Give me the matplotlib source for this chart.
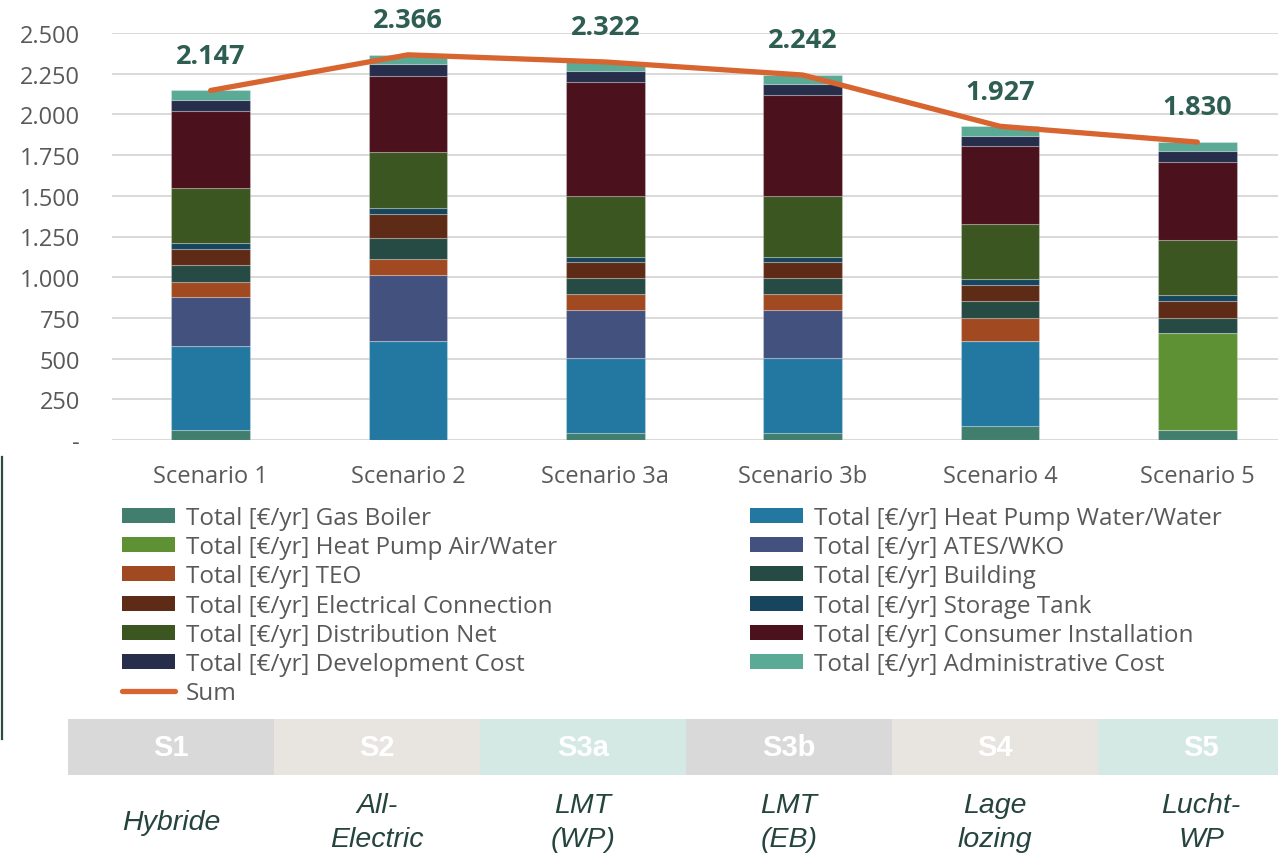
import numpy as np
import matplotlib
matplotlib.use("Agg")
from matplotlib import pyplot as plt
from matplotlib.patches import Rectangle, Patch
from matplotlib.lines import Line2D
from matplotlib.ticker import FuncFormatter

plt.rcParams['font.family'] = ['Open Sans', 'DejaVu Sans']

scenarios = ["Scenario 1", "Scenario 2", "Scenario 3a", "Scenario 3b", "Scenario 4", "Scenario 5"]

# cost components [€/yr]
gas_boiler   = [60, 0, 43, 43, 84, 61]
hp_water     = [519, 610, 459, 459, 526, 0]
hp_air       = [0, 0, 0, 0, 0, 596]
ates_wko     = [297, 405, 295, 295, 0, 0]
teo          = [93, 95, 98, 98, 141, 0]
building     = [104, 133, 98, 98, 105, 94]
elec_conn    = [98, 145, 99, 99, 98, 105]
storage_tank = [37, 39, 30, 30, 33, 37]
distribution = [338, 340, 377, 377, 340, 337]
consumer     = [477, 471, 698, 618, 477, 476]
development  = [67, 70, 68, 68, 65, 67]
admin        = [57, 58, 57, 57, 58, 57]
totals       = [2147, 2366, 2322, 2242, 1927, 1830]

short_names = ["S1", "S2", "S3a", "S3b", "S4", "S5"]
descriptions = ["Hybride", "All-\nElectric", "LMT\n(WP)", "LMT\n(EB)", "Lage\nlozing", "Lucht-\nWP"]

series = [
    ("Gas Boiler", gas_boiler, '#417e6e'),
    ("Heat Pump Water/Water", hp_water, '#2378a1'),
    ("Heat Pump Air/Water", hp_air, '#5e9134'),
    ("ATES/WKO", ates_wko, '#43517f'),
    ("TEO", teo, '#a14a22'),
    ("Building", building, '#264b44'),
    ("Electrical Connection", elec_conn, '#5e2b16'),
    ("Storage Tank", storage_tank, '#17455e'),
    ("Distribution Net", distribution, '#3b5620'),
    ("Consumer Installation", consumer, '#4b111d'),
    ("Development Cost", development, '#262e4b'),
    ("Administrative Cost", admin, '#5aaa96'),
]

W, H = 1278, 854
fig = plt.figure(figsize=(W/100, H/100), dpi=100)
ax = fig.add_axes([112/W, 1-441/H, 1184/W, 407/H])

x = np.arange(len(scenarios))
bottom = np.zeros(len(scenarios))
handles = {}
for name, vals, col in series:
    vals = np.array(vals, dtype=float)
    ax.bar(x, vals, width=0.4, bottom=bottom, color=col, edgecolor=(1, 1, 1, 0.25), linewidth=0.8, zorder=3)
    handles[name] = Patch(facecolor=col, label="Total [€/yr] " + name)
    bottom += vals

line_col = '#d8652f'
ax.plot(x, totals, color=line_col, lw=3.8, solid_capstyle='round', zorder=5)
for xi, t in zip(x, totals):
    ax.annotate(f"{t:,}".replace(",", "."), (xi, t), xytext=(0, 25), textcoords='offset points',
                ha='center', va='center', fontsize=19.5, fontweight='bold', color='#2e5e52',
                annotation_clip=False)

ax.set_xlim(-0.5, 5.5)
ax.set_ylim(0, 2500)
ax.set_yticks(np.arange(0, 2501, 250))
ax.yaxis.set_major_formatter(FuncFormatter(lambda v, p: '-' if v == 0 else f"{int(v):,}".replace(",", ".")))
ax.set_xticks(x)
ax.set_xticklabels(scenarios)
ax.tick_params(axis='both', length=0, labelsize=17, labelcolor='#595959')
ax.tick_params(axis='y', pad=23)
ax.tick_params(axis='x', pad=17)
ax.grid(axis='y', color='#d9d9d9', lw=1.4, zorder=0)
for s in ax.spines.values():
    s.set_visible(False)

# legend in two columns
sum_handle = Line2D([], [], color=line_col, lw=3.8, solid_capstyle='round', label='Sum')
left_names = ["Gas Boiler", "Heat Pump Air/Water", "TEO", "Electrical Connection", "Distribution Net", "Development Cost"]
right_names = ["Heat Pump Water/Water", "ATES/WKO", "Building", "Storage Tank", "Consumer Installation", "Administrative Cost"]
leg_kw = dict(frameon=False, loc='upper left', fontsize=17.5, labelcolor='#595959', borderpad=0,
              borderaxespad=0, handlelength=2.2, handleheight=0.58, handletextpad=0.42, labelspacing=0.215)
leg1 = fig.legend(handles=[handles[n] for n in left_names] + [sum_handle], bbox_to_anchor=(122/W, 1-507/H), **leg_kw)
leg2 = fig.legend(handles=[handles[n] for n in right_names], bbox_to_anchor=(750/W, 1-507/H), **leg_kw)

# scenario strip underneath
cell_cols = ['#d9d9d9', '#e8e5e0', '#d4e9e3', '#d9d9d9', '#e8e5e0', '#d4e9e3']
cw = 206
for i, (nm, desc, cc) in enumerate(zip(short_names, descriptions, cell_cols)):
    x0 = 68 + i*cw
    fig.patches.append(Rectangle((x0/W, 1-776/H), cw/W, 56/H, transform=fig.transFigure,
                                 facecolor=cc, edgecolor='none'))
    fig.text((x0 + cw/2)/W, 1-748/H, nm, ha='center', va='center', color='white',
             fontsize=21, fontweight='bold', family='Liberation Sans')
    fig.text((x0 + cw/2)/W, 1-823/H, desc, ha='center', va='center', color='#24443d',
             fontsize=20.5, style='italic', family='Liberation Sans', linespacing=1.38)

fig.add_artist(Line2D([1.5/W, 1.5/W], [1-458/H, 1-740/H], color='#2d4a44', lw=1.6, transform=fig.transFigure))

fig.savefig("out.png", dpi=100)
